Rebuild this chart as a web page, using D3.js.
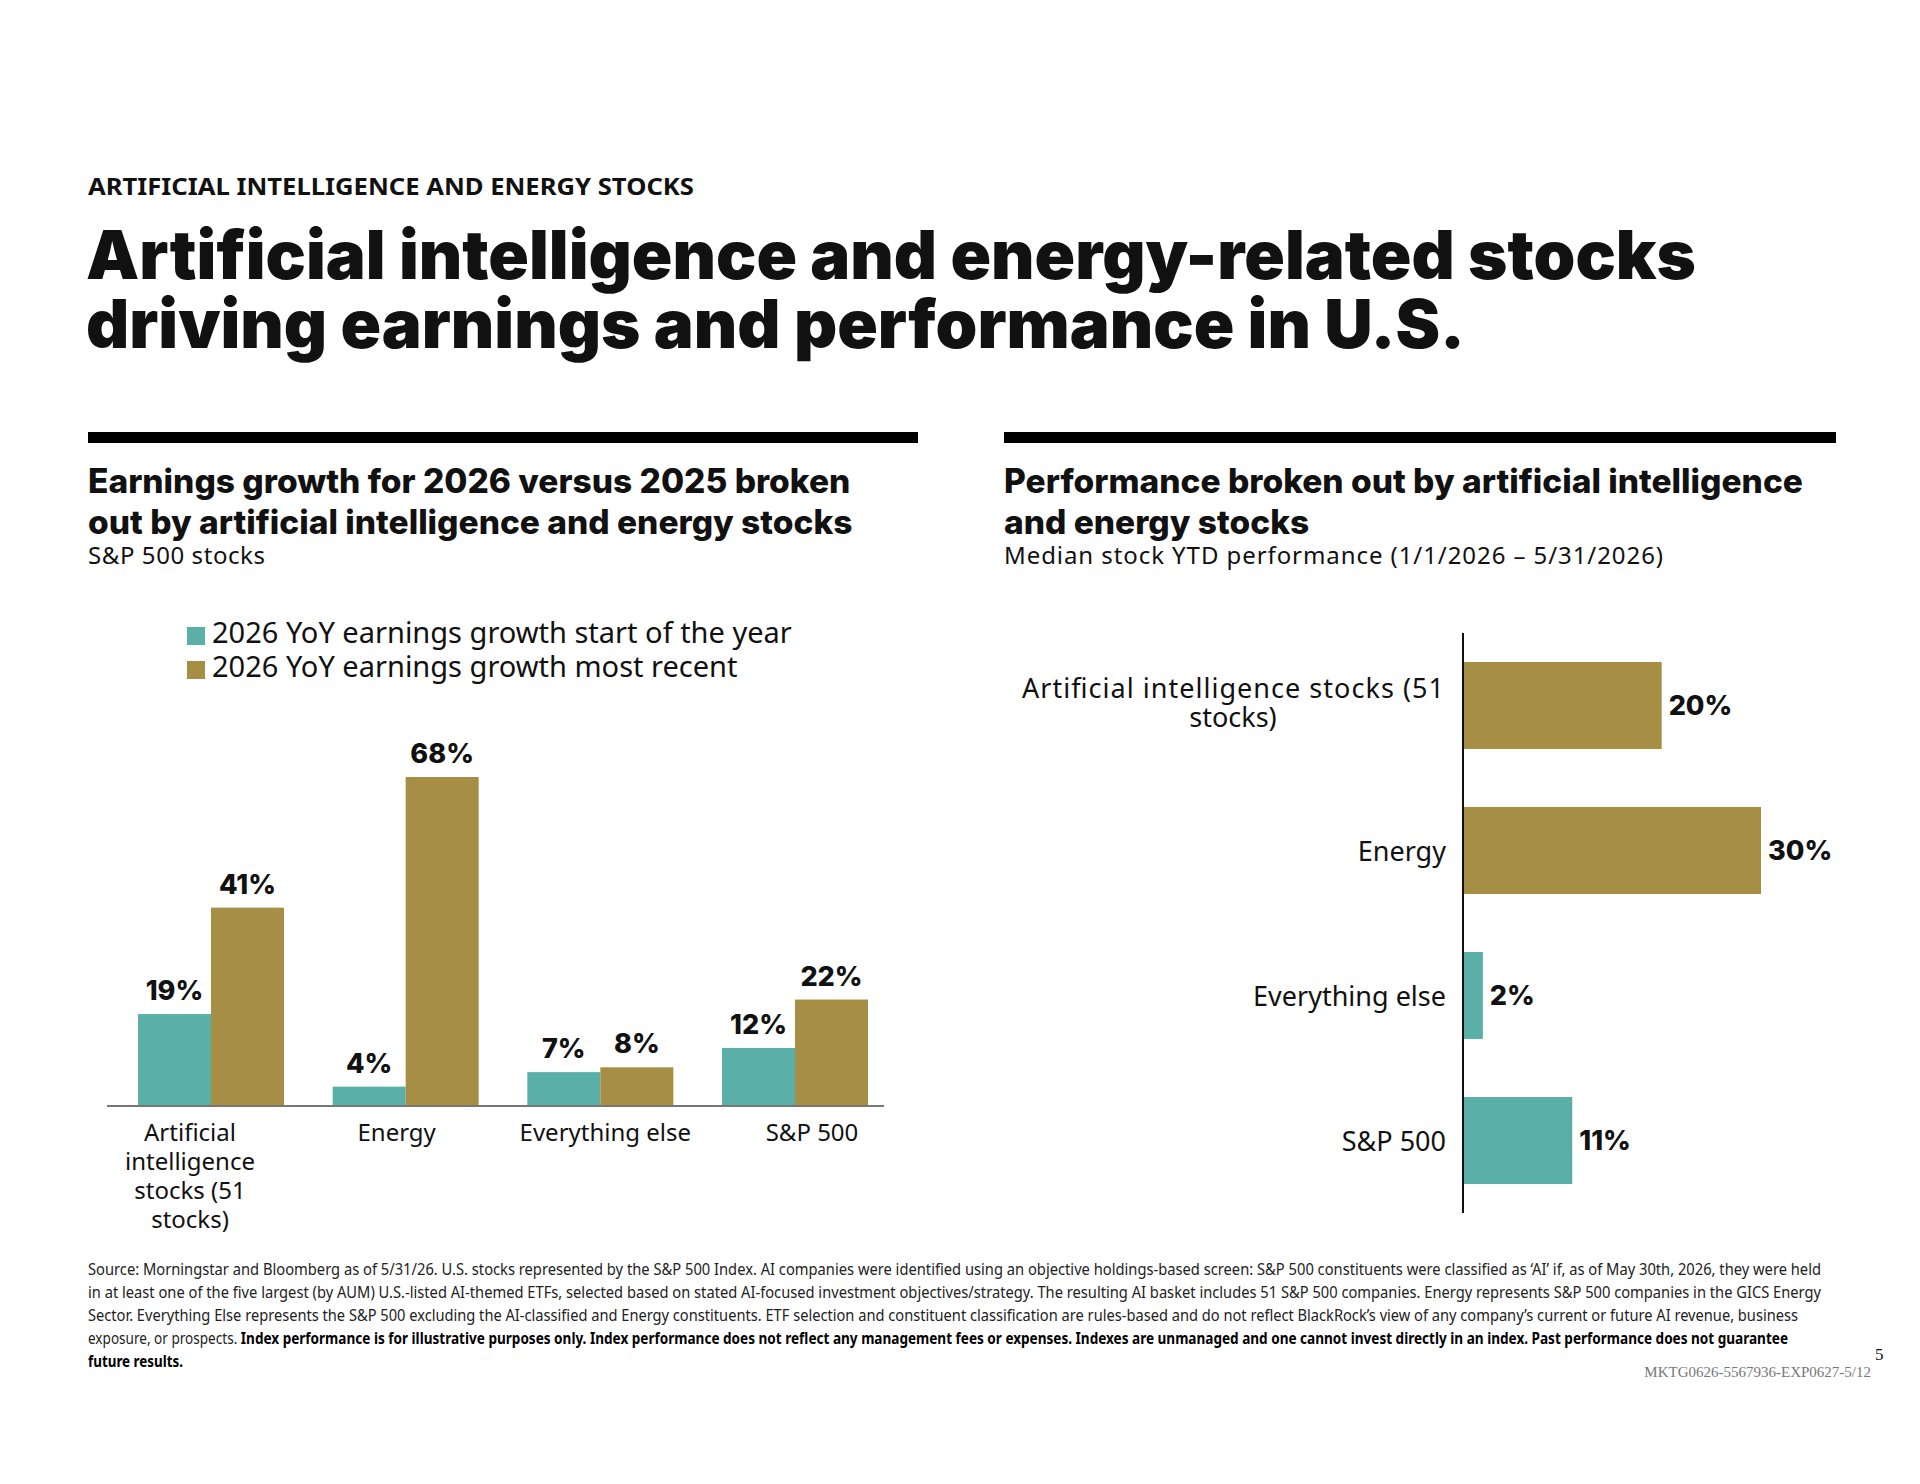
<!DOCTYPE html>
<meta charset="utf-8">
<script src="https://d3js.org/d3.v7.min.js"></script>
<style>
body{margin:0;background:#fff}
text{font-family:"Noto Sans",sans-serif;fill:#111}
</style>
<div id="chart"></div>
<script>
// left chart data
var groups = ["Artificial intelligence stocks (51 stocks)", "Energy", "Everything else", "S&P 500"];
var groupLines = [["Artificial","intelligence","stocks (51","stocks)"],["Energy"],["Everything else"],["S&P 500"]];
var startYear = [19, 4, 7, 12];
var mostRecent = [41, 68, 8, 22];
var seriesNames = ["2026 YoY earnings growth start of the year", "2026 YoY earnings growth most recent"];

// right chart data
var perfLines = [["Artificial intelligence stocks (51","stocks)"],["Energy"],["Everything else"],["S&P 500"]];
var perfValues = [20, 30, 2, 11];
var perfColorIdx = [1, 1, 0, 0];

var colors = ["#5aafa7", "#a68f45"];

var svg = d3.select("#chart").append("svg").attr("width",1920).attr("height",1484);

svg.append("text").attr("x",88).attr("y",195).attr("font-size",23).attr("font-weight",700)
  .attr("textLength",606).attr("lengthAdjust","spacingAndGlyphs")
  .text("ARTIFICIAL INTELLIGENCE AND ENERGY STOCKS");
["Artificial intelligence and energy-related stocks","driving earnings and performance in U.S."].forEach(function(t,i){
  svg.append("text").attr("x",86).attr("y",279+i*69).attr("font-size",67).attr("font-weight",900)
    .style("font-family","Inter, sans-serif").text(t);
});

// section rules
svg.append("rect").attr("x",88).attr("y",432).attr("width",830).attr("height",11).attr("fill","#000");
svg.append("rect").attr("x",1004).attr("y",432).attr("width",832).attr("height",11).attr("fill","#000");

function subtitle(x, lines, sub, subLen){
  lines.forEach(function(t,i){
    svg.append("text").attr("x",x).attr("y",493+i*41).attr("font-size",33.5).attr("font-weight",800)
      .style("font-family","Inter, sans-serif").text(t);
  });
  svg.append("text").attr("x",x).attr("y",564).attr("font-size",24)
    .attr("textLength",subLen).attr("lengthAdjust","spacing").text(sub);
}
subtitle(88,["Earnings growth for 2026 versus 2025 broken","out by artificial intelligence and energy stocks"],"S&P 500 stocks",177);
subtitle(1004,["Performance broken out by artificial intelligence","and energy stocks"],"Median stock YTD performance  (1/1/2026 \u2013 5/31/2026)",659);

// legend
seriesNames.forEach(function(s,i){
  svg.append("rect").attr("x",187).attr("y",627+i*34).attr("width",18).attr("height",18).attr("fill",colors[i]);
  svg.append("text").attr("x",212).attr("y",643+i*34).attr("font-size",29).text(s);
});

// left bar chart
var base = 1106;
var labelShift = [-21, -9, 5, 17];
var x0 = d3.scaleBand().domain(groups).range([138,868]).paddingInner(0.25).paddingOuter(0);
var y = d3.scaleLinear().domain([0,68]).range([base, base-329]);
var x1 = d3.scaleBand().domain([0,1]).range([0,x0.bandwidth()]);
var left = svg.append("g");
groups.forEach(function(g,gi){
  [startYear[gi], mostRecent[gi]].forEach(function(v,si){
    var bx = x0(g)+x1(si);
    left.append("rect").attr("x",bx).attr("y",y(v)).attr("width",x1.bandwidth()).attr("height",base-y(v)).attr("fill",colors[si]);
    left.append("text").attr("x",bx+x1.bandwidth()/2).attr("y",y(v)-14).attr("text-anchor","middle")
      .attr("font-size",27).attr("font-weight",800).style("font-family","Inter, sans-serif").text(v+"%");
  });
  groupLines[gi].forEach(function(t,li){
    left.append("text").attr("x",x0(g)+x0.bandwidth()/2+labelShift[gi]).attr("y",1141+li*29).attr("text-anchor","middle")
      .attr("font-size",24).text(t);
  });
});
left.append("line").attr("x1",107).attr("x2",884).attr("y1",base).attr("y2",base).attr("stroke","#777").attr("stroke-width",2);

// right bar chart
var ax = 1463;
var yb = d3.scaleBand().domain(d3.range(4)).range([633,1213]).paddingInner(0.4).paddingOuter(0.2);
var xr = d3.scaleLinear().domain([0,30]).range([ax, ax+298]);
var right = svg.append("g");
perfValues.forEach(function(v,i){
  right.append("rect").attr("x",ax).attr("y",yb(i)).attr("width",xr(v)-ax).attr("height",yb.bandwidth()).attr("fill",colors[perfColorIdx[i]]);
  right.append("text").attr("x",xr(v)+7).attr("y",yb(i)+yb.bandwidth()/2+9).attr("font-size",27).attr("font-weight",800)
    .style("font-family","Inter, sans-serif").text(v+"%");
  var lines = perfLines[i];
  lines.forEach(function(t,li){
    right.append("text").attr("x", lines.length>1 ? 1233 : 1446).attr("text-anchor", lines.length>1 ? "middle" : "end")
      .attr("y",yb(i)+yb.bandwidth()/2+10-(lines.length-1)*15+li*29 - (lines.length>1?3:0)).attr("font-size",27)
      .attr("textLength", li===0 && lines.length>1 ? 422 : null).attr("lengthAdjust","spacing").text(t);
  });
});
right.append("line").attr("x1",ax).attr("x2",ax).attr("y1",633).attr("y2",1213).attr("stroke","#111").attr("stroke-width",2);

// footnote
var foot = [
 "Source: Morningstar and Bloomberg as of 5/31/26. U.S. stocks represented by the S&P 500 Index. AI companies were identified using an objective holdings-based screen: S&P 500 constituents were classified as \u2018AI\u2019 if, as of May 30th, 2026, they were held",
 "in at least one of the five largest (by AUM) U.S.-listed AI-themed ETFs, selected based on stated AI-focused investment objectives/strategy. The resulting AI basket includes 51 S&P 500 companies. Energy represents S&P 500 companies in the GICS Energy",
 "Sector. Everything Else represents the S&P 500 excluding the AI-classified and Energy constituents. ETF selection and constituent classification are rules-based and do not reflect BlackRock\u2019s view of any company\u2019s current or future AI revenue, business",
 null,
 "future results."
];
var footLen = [1733, 1733, 1710, 1700, 95];
var fg = svg.append("g");
foot.forEach(function(t,i){
  var tx = fg.append("text").attr("x",88).attr("y",1275+i*23).attr("font-size",16).style("fill","#222")
    .attr("textLength",footLen[i]).attr("lengthAdjust","spacingAndGlyphs");
  if(t===null){
    tx.append("tspan").text("exposure, or prospects. ");
    tx.append("tspan").attr("font-weight",700).style("fill","#000").text("Index performance is for illustrative purposes only. Index performance does not reflect any management fees or expenses. Indexes are unmanaged and one cannot invest directly in an index. Past performance does not guarantee");
  } else {
    tx.text(t);
    if(i===4) tx.attr("font-weight",700).style("fill","#000");
  }
});
svg.append("text").attr("x",1875).attr("y",1360).attr("font-size",17).style("font-family","'Liberation Serif',serif").text("5");
svg.append("text").attr("x",1871).attr("y",1377).attr("text-anchor","end").attr("font-size",15).style("font-family","'Liberation Serif',serif").style("fill","#777").text("MKTG0626-5567936-EXP0627-5/12");
</script>
